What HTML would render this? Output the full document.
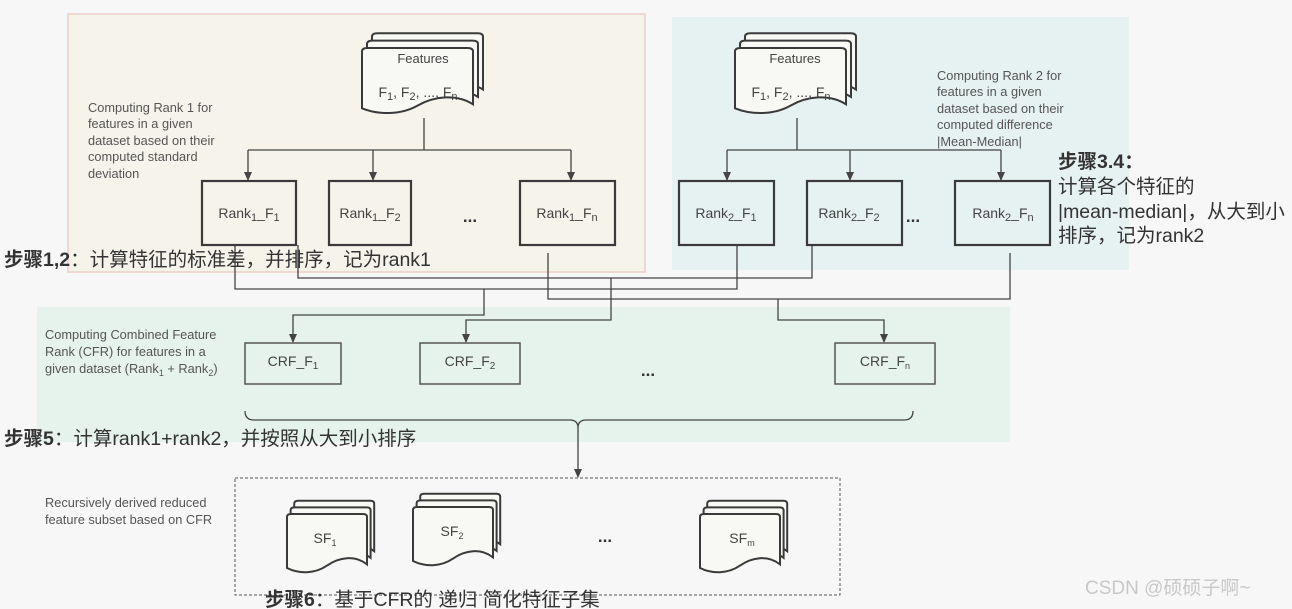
<!DOCTYPE html>
<html><head><meta charset="utf-8"><style>
html,body{margin:0;padding:0;background:#f7f7f7;}
svg{display:block;font-family:"Liberation Sans","Noto Sans CJK SC",sans-serif;}
</style></head><body>
<svg width="1292" height="609" viewBox="0 0 1292 609" xmlns="http://www.w3.org/2000/svg">
<defs>
<path id="pg" d="M0,5 Q0,0 5,0 L95,0 Q100,0 100,5 L100,84 C85,68 65,72 50,86 C35,100 15,100 0,90 Z" stroke="#3a3a3a" stroke-width="2" vector-effect="non-scaling-stroke"/>
<g id="doc"><use href="#pg" transform="translate(9,-22)" fill="#f8f8f5"/><use href="#pg" transform="translate(4.5,-11)" fill="#f8f8f5"/><use href="#pg" fill="#f8f8f5"/></g>
<path id="ah" d="M-4,-9 L4,-9 L0,0 Z" fill="#444"/>
</defs>
<rect width="1292" height="609" fill="#f7f7f7"/>
<rect x="68" y="14" width="577" height="258" fill="#f6f3ea" stroke="#efd8cf" stroke-width="2"/>
<rect x="672" y="17" width="457" height="253" fill="#e6f2f1"/>
<rect x="37" y="307" width="973" height="135" fill="#e6f3ec"/>

<g transform="translate(362,48) scale(1.11,0.67)"><use href="#doc"/></g>
<text x="423" y="63" font-size="13" fill="#444" text-anchor="middle">Features</text>
<text x="418" y="97" font-size="14" fill="#444" text-anchor="middle">F<tspan font-size="11" dy="3">1</tspan><tspan dy="-3">, F</tspan><tspan font-size="11" dy="3">2</tspan><tspan dy="-3">, ..., F</tspan><tspan font-size="11" dy="3">n</tspan></text>
<g transform="translate(735,48) scale(1.11,0.67)"><use href="#doc"/></g>
<text x="795" y="63" font-size="13" fill="#444" text-anchor="middle">Features</text>
<text x="791" y="97" font-size="14" fill="#444" text-anchor="middle">F<tspan font-size="11" dy="3">1</tspan><tspan dy="-3">, F</tspan><tspan font-size="11" dy="3">2</tspan><tspan dy="-3">, ..., F</tspan><tspan font-size="11" dy="3">n</tspan></text>

<g fill="none" stroke="#444" stroke-width="1.3">
<path d="M424,118 V150 M248,150 H571"/>
<path d="M248,150 V180 M373,150 V180 M571,150 V180"/>
<path d="M797,118 V150 M727,150 H1001"/>
<path d="M727,150 V180 M850,150 V180 M1001,150 V180"/>
<path d="M235,245 V289 H737 V245"/>
<path d="M298,245 V278 H812 V245"/>
<path d="M548,253 V299 H1010 V253"/>
<path d="M484,289 V315 H293 V342"/>
<path d="M611,278 V320 H466 V342"/>
<path d="M778,299 V320 H884 V342"/>
<path d="M245,411 Q245,420 254,420 H570 Q578,420 578,428 Q578,420 586,420 H904 Q913,420 913,411"/>
<path d="M578,428 V477"/>
</g>
<use href="#ah" x="248" y="181"/><use href="#ah" x="373" y="181"/><use href="#ah" x="571" y="181"/>
<use href="#ah" x="727" y="181"/><use href="#ah" x="850" y="181"/><use href="#ah" x="1001" y="181"/>
<use href="#ah" x="293" y="343"/><use href="#ah" x="466" y="343"/><use href="#ah" x="884" y="343"/>
<use href="#ah" x="578" y="478"/>

<g fill="none" stroke="#3a3a3a" stroke-width="2.2">
<rect x="202" y="181" width="94" height="64"/><rect x="329" y="181" width="82" height="64"/><rect x="520" y="181" width="95" height="64"/>
<rect x="679" y="181" width="95" height="64"/><rect x="807" y="181" width="95" height="64"/><rect x="955" y="181" width="95" height="64"/>
</g>
<g fill="none" stroke="#555" stroke-width="1.5">
<rect x="245" y="343" width="96" height="41"/><rect x="420" y="343" width="100" height="41"/><rect x="835" y="343" width="100" height="41"/>
</g>
<rect x="235" y="478" width="605" height="117" fill="none" stroke="#555" stroke-width="1" stroke-dasharray="3,2"/>

<g font-size="14" fill="#444" text-anchor="middle">
<text x="249" y="218">Rank<tspan font-size="11" dy="3">1</tspan><tspan dy="-3">_F</tspan><tspan font-size="11" dy="3">1</tspan></text>
<text x="370" y="218">Rank<tspan font-size="11" dy="3">1</tspan><tspan dy="-3">_F</tspan><tspan font-size="11" dy="3">2</tspan></text>
<text x="567" y="218">Rank<tspan font-size="11" dy="3">1</tspan><tspan dy="-3">_F</tspan><tspan font-size="11" dy="3">n</tspan></text>
<text x="726" y="218">Rank<tspan font-size="11" dy="3">2</tspan><tspan dy="-3">_F</tspan><tspan font-size="11" dy="3">1</tspan></text>
<text x="849" y="218">Rank<tspan font-size="11" dy="3">2</tspan><tspan dy="-3">_F</tspan><tspan font-size="11" dy="3">2</tspan></text>
<text x="1003" y="218">Rank<tspan font-size="11" dy="3">2</tspan><tspan dy="-3">_F</tspan><tspan font-size="11" dy="3">n</tspan></text>
<text x="293" y="366">CRF_F<tspan font-size="10" dy="3">1</tspan></text>
<text x="470" y="366">CRF_F<tspan font-size="10" dy="3">2</tspan></text>
<text x="885" y="366">CRF_F<tspan font-size="9" dy="3">n</tspan></text>
</g>
<g font-size="17" font-weight="bold" fill="#333" text-anchor="middle">
<text x="470" y="222">...</text><text x="913" y="222">...</text><text x="648" y="376">...</text><text x="605" y="542">...</text>
</g>

<g transform="translate(287,514) scale(0.8,0.6)"><use href="#doc"/></g>
<text x="325" y="543" font-size="14" fill="#444" text-anchor="middle">SF<tspan font-size="9" dy="3">1</tspan></text>
<g transform="translate(413,507) scale(0.8,0.6)"><use href="#doc"/></g>
<text x="452" y="536" font-size="14" fill="#444" text-anchor="middle">SF<tspan font-size="9" dy="3">2</tspan></text>
<g transform="translate(700,514) scale(0.8,0.6)"><use href="#doc"/></g>
<text x="742" y="543" font-size="14" fill="#444" text-anchor="middle">SF<tspan font-size="9" dy="3">m</tspan></text>

<g font-size="12.8" fill="#555">
<text x="88" y="112">Computing Rank 1 for</text>
<text x="88" y="128">features in a given</text>
<text x="88" y="145">dataset based on their</text>
<text x="88" y="161">computed standard</text>
<text x="88" y="178">deviation</text>
<text x="937" y="80">Computing Rank 2 for</text>
<text x="937" y="96">features in a given</text>
<text x="937" y="113">dataset based on their</text>
<text x="937" y="129">computed difference</text>
<text x="937" y="146">|Mean-Median|</text>
<text x="45" y="339">Computing Combined Feature</text>
<text x="45" y="356">Rank (CFR) for features in a</text>
<text x="45" y="373">given dataset (Rank<tspan font-size="9" dy="3">1</tspan><tspan dy="-3"> + Rank</tspan><tspan font-size="9" dy="3">2</tspan><tspan dy="-3">)</tspan></text>
<text x="45" y="507">Recursively derived reduced</text>
<text x="45" y="524">feature subset based on CFR</text>
</g>

<g font-size="19.5" fill="#333">
<text x="4" y="266"><tspan font-weight="bold">步骤1,2</tspan>：计算特征的标准差，并排序，记为rank1</text>
<text x="1058" y="168" font-weight="bold">步骤3.4：</text>
<text x="1058" y="193">计算各个特征的</text>
<text x="1058" y="218">|mean-median|，从大到小</text>
<text x="1058" y="242">排序，记为rank2</text>
<text x="4" y="445"><tspan font-weight="bold">步骤5</tspan>：计算rank1+rank2，并按照从大到小排序</text>
<text x="265" y="606"><tspan font-weight="bold">步骤6</tspan>：基于CFR的 递归 简化特征子集</text>
</g>
<text x="1085" y="594" font-size="19" fill="#c8c8c8">CSDN @硕硕子啊~</text>
</svg>
</body></html>
